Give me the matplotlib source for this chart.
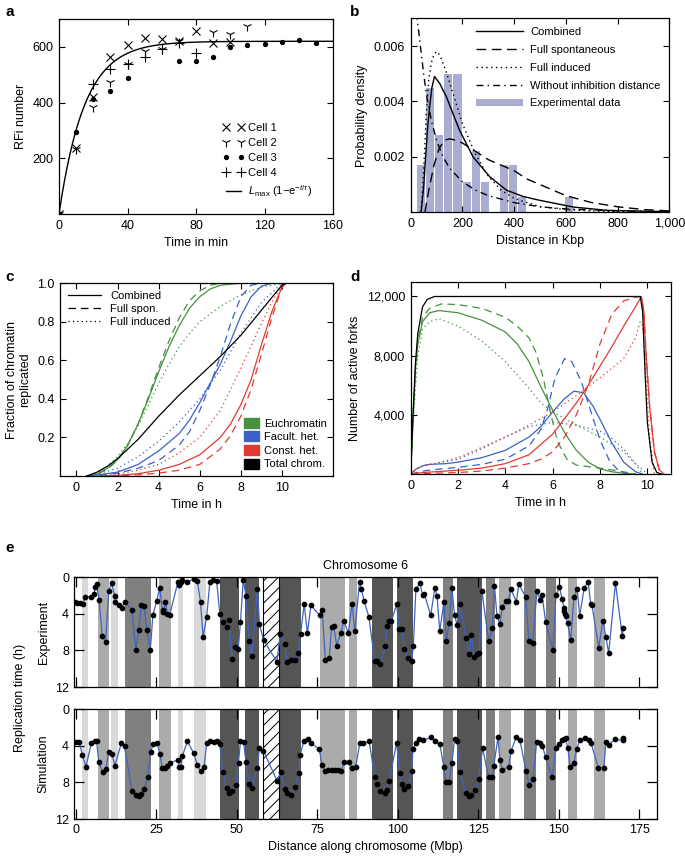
import numpy as np
import matplotlib
matplotlib.use('Agg')
import matplotlib.pyplot as plt
from matplotlib.patches import Patch, Rectangle
from matplotlib.lines import Line2D

plt.rcParams['font.family'] = ['Liberation Sans', 'DejaVu Sans']
plt.rcParams['font.size'] = 9
plt.rcParams['axes.linewidth'] = 0.9
plt.rcParams['mathtext.fontset'] = 'custom'
plt.rcParams['mathtext.rm'] = 'Liberation Sans'
plt.rcParams['mathtext.it'] = 'Liberation Sans:italic'
plt.rcParams['hatch.linewidth'] = 0.7

GREEN = '#46913f'
BLUE = '#3a62c4'
RED = '#e23a30'
LINEBLUE = '#4163bd'

# ---------------- Panel a data ----------------
cell1_t = [0, 10, 20, 30, 40, 50, 60, 70, 80, 90, 100]
cell1_v = [0, 238, 420, 562, 607, 632, 627, 622, 657, 614, 618]
cell2_t = [0, 10, 20, 30, 40, 50, 60, 70, 90, 100, 110]
cell2_v = [0, 235, 385, 475, 537, 586, 594, 622, 654, 645, 674]
cell3_t = [0, 10, 20, 30, 40, 70, 80, 90, 100, 110, 120, 130, 140, 150]
cell3_v = [0, 295, 413, 441, 490, 550, 549, 565, 600, 608, 611, 618, 626, 614]
cell4_t = [0, 20, 30, 40, 50, 60, 70, 80]
cell4_v = [0, 466, 520, 537, 565, 592, 614, 577]
fit_Lmax = 620
fit_tau = 15

# ---------------- Panel b data ----------------
hist_centers = [38, 74, 110, 145, 181, 217, 253, 289, 360, 396, 432, 611]
hist_heights = [0.0017, 0.0045, 0.0028, 0.0050, 0.0050, 0.0011, 0.0022, 0.0011,
                0.0017, 0.0017, 0.00055, 0.00055]
comb_x = [40, 50, 57, 65, 73, 82, 92, 100, 112, 138, 163, 189, 241, 306, 370, 435, 500, 629, 759, 1000]
comb_y = [0, 0.0009, 0.0019, 0.0030, 0.0038, 0.0045, 0.0049, 0.0048, 0.00465, 0.00417, 0.00357,
          0.00296, 0.0020, 0.00128, 0.0008, 0.00057, 0.00043, 0.00019, 0.00007, 0.00002]
spont_x = [55, 70, 90, 110, 130, 150, 175, 200, 250, 300, 350, 400, 450, 500, 600, 700, 800, 900, 1000]
spont_y = [0, 0.0008, 0.0017, 0.0023, 0.0026, 0.00265, 0.0026, 0.0025, 0.0022, 0.0019, 0.0017,
           0.0015, 0.0012, 0.0010, 0.0006, 0.00035, 0.0002, 0.0001, 0.00005]
induced_x = [40, 50, 60, 70, 80, 90, 100, 110, 120, 140, 160, 180, 200, 250, 300, 350, 400, 500,
             600, 700, 800, 1000]
induced_y = [0, 0.0015, 0.0035, 0.0048, 0.0054, 0.0057, 0.0058, 0.0057, 0.0055, 0.0050, 0.0044,
             0.0038, 0.0032, 0.0021, 0.0013, 0.0008, 0.0005, 0.0002, 0.0001, 0.00005, 0.00002, 0]
noinh_x = [22, 30, 40, 50, 60, 80, 100, 125, 150, 200, 250, 300, 400, 500, 600, 800, 1000]
noinh_y = [0.0072, 0.0066, 0.0058, 0.0050, 0.0043, 0.0033, 0.0026, 0.0020, 0.0016, 0.0011,
           0.0008, 0.0006, 0.00035, 0.0002, 0.00012, 0.00005, 0.00002]

# ---------------- Panel c data ----------------
c_eu_comb_t = [0.5, 1, 1.5, 2, 2.5, 3, 3.5, 4, 4.5, 5, 5.5, 6, 6.5, 7, 8, 10]
c_eu_comb = [0, 0.01, 0.04, 0.085, 0.16, 0.27, 0.4, 0.54, 0.67, 0.78, 0.87, 0.93, 0.97, 0.99, 1.0, 1.0]
c_eu_spon_t = [0.5, 1, 1.5, 2, 2.5, 3, 3.5, 4, 4.5, 5, 5.5, 6, 6.5, 7, 8, 10]
c_eu_spon = [0, 0.008, 0.035, 0.08, 0.16, 0.27, 0.41, 0.56, 0.70, 0.82, 0.91, 0.96, 0.99, 1.0, 1.0, 1.0]
c_eu_ind_t = [0.5, 1, 1.5, 2, 2.5, 3, 3.5, 4, 4.5, 5, 5.5, 6, 7, 8, 9, 10]
c_eu_ind = [0, 0.015, 0.05, 0.1, 0.17, 0.26, 0.37, 0.48, 0.58, 0.67, 0.74, 0.80, 0.88, 0.94, 0.98, 1.0]
c_fh_comb_t = [0.5, 1, 2, 3, 4, 5, 5.5, 6, 6.5, 7, 7.5, 8, 8.5, 9, 9.5, 10]
c_fh_comb = [0, 0.005, 0.02, 0.06, 0.13, 0.22, 0.29, 0.38, 0.48, 0.58, 0.70, 0.83, 0.93, 0.985, 1.0, 1.0]
c_fh_spon_t = [0.5, 1, 2, 3, 4, 5, 5.5, 6, 6.5, 7, 7.5, 8, 8.5, 9, 10]
c_fh_spon = [0, 0.003, 0.015, 0.04, 0.08, 0.16, 0.23, 0.34, 0.47, 0.62, 0.79, 0.93, 0.99, 1.0, 1.0]
c_fh_ind_t = [0.5, 1, 2, 3, 4, 5, 6, 7, 8, 9, 10]
c_fh_ind = [0, 0.01, 0.04, 0.1, 0.18, 0.28, 0.40, 0.55, 0.74, 0.90, 1.0]
c_ch_comb_t = [1, 2, 3, 4, 5, 6, 7, 7.5, 8, 8.5, 9, 9.5, 10, 10.2]
c_ch_comb = [0, 0.003, 0.012, 0.03, 0.06, 0.11, 0.20, 0.27, 0.37, 0.50, 0.68, 0.85, 0.98, 1.0]
c_ch_spon_t = [1, 2, 3, 4, 5, 6, 7, 7.5, 8, 8.5, 9, 9.5, 10, 10.2]
c_ch_spon = [0, 0.002, 0.006, 0.015, 0.03, 0.06, 0.14, 0.21, 0.31, 0.45, 0.63, 0.82, 0.98, 1.0]
c_ch_ind_t = [1, 2, 3, 4, 5, 6, 7, 8, 9, 9.5, 10, 10.2]
c_ch_ind = [0, 0.01, 0.03, 0.06, 0.12, 0.20, 0.34, 0.56, 0.79, 0.90, 0.99, 1.0]
c_tot_t = [0.5, 1, 1.5, 2, 3, 4, 5, 6, 7, 8, 9, 10, 10.2]
c_tot = [0, 0.02, 0.05, 0.09, 0.19, 0.31, 0.42, 0.52, 0.62, 0.73, 0.86, 0.99, 1.0]

# ---------------- Panel d data ----------------
d_tot_t = [0, 0.1, 0.2, 0.3, 0.5, 0.7, 1.0, 1.5, 9.7, 9.8, 9.9, 10.0, 10.2, 10.4, 10.6]
d_tot = [0, 4000, 7500, 9500, 11300, 11800, 12000, 12000, 12000, 11000, 7000, 3500, 800, 100, 0]
d_eu_comb_t = [0, 0.1, 0.2, 0.3, 0.5, 0.8, 1.2, 2, 3, 4, 4.5, 5, 5.5, 6, 6.5, 7, 7.5, 8, 8.5, 9, 9.5]
d_eu_comb = [0, 3800, 7000, 8800, 10300, 10900, 11050, 10900, 10400, 9600, 8800, 7600, 5900, 4300,
             2800, 1600, 800, 350, 150, 50, 0]
d_eu_spon_t = [0, 0.1, 0.2, 0.3, 0.5, 0.8, 1.3, 2, 3, 4, 4.5, 5, 5.3, 5.6, 5.9, 6.2, 6.6, 7, 7.5, 8, 9, 9.5]
d_eu_spon = [0, 3800, 7200, 9000, 10600, 11200, 11500, 11450, 11200, 10600, 10000, 9200, 8200, 6500,
             4200, 2200, 1000, 600, 500, 400, 150, 0]
d_eu_ind_t = [0, 0.1, 0.3, 0.5, 0.8, 1.2, 2, 3, 4, 5, 5.5, 6, 7, 8, 9, 9.5, 9.8, 10]
d_eu_ind = [0, 3500, 8000, 9800, 10300, 10500, 10000, 9000, 7600, 5800, 4800, 4200, 3300, 2500,
            1500, 700, 300, 0]
d_fh_comb_t = [0, 0.2, 0.5, 0.8, 1.5, 2, 3, 4, 5, 5.5, 6, 6.5, 6.9, 7.3, 7.7, 8, 8.5, 9, 9.5, 9.8]
d_fh_comb = [0, 300, 550, 650, 700, 800, 1100, 1600, 2500, 3200, 4200, 5100, 5600, 5500, 4600,
             3700, 2100, 800, 150, 0]
d_fh_spon_t = [0, 0.5, 1, 2, 3, 4, 5, 5.5, 5.8, 6.1, 6.5, 6.8, 7.2, 7.6, 8, 8.4, 8.8, 9.2]
d_fh_spon = [0, 200, 300, 450, 650, 1000, 1900, 3000, 4500, 6500, 7800, 7600, 6300, 4300, 2300,
             900, 200, 0]
d_fh_ind_t = [0, 0.3, 0.6, 1, 2, 3, 4, 5, 6, 7, 8, 8.5, 9, 9.5, 9.8]
d_fh_ind = [0, 400, 600, 700, 1000, 1700, 2500, 3200, 3500, 3300, 2900, 2400, 1700, 700, 0]
d_ch_comb_t = [0, 0.5, 1, 2, 3, 4, 5, 6, 7, 7.5, 8, 8.5, 9, 9.5, 9.75, 9.85, 9.95, 10.1, 10.3,
               10.5, 10.7]
d_ch_comb = [0, 100, 150, 250, 400, 700, 1300, 2700, 4800, 6000, 7300, 8600, 10000, 11300, 12000,
             11000, 8000, 4500, 1500, 300, 0]
d_ch_spon_t = [0, 1, 2, 3, 4, 5, 5.5, 6, 6.5, 7, 7.5, 8, 8.5, 9, 9.5, 9.75, 9.85, 9.95, 10.1,
               10.3, 10.5, 10.7]
d_ch_spon = [0, 50, 100, 200, 400, 700, 1000, 1500, 2500, 4000, 6000, 8800, 10800, 11700, 11950,
             12000, 11000, 8000, 4500, 1500, 300, 0]
d_ch_ind_t = [0, 0.3, 0.6, 1, 2, 3, 4, 5, 6, 7, 8, 9, 9.5, 9.7, 9.8, 9.9, 10, 10.1, 10.3]
d_ch_ind = [0, 400, 600, 700, 1100, 1800, 2500, 3300, 4200, 5300, 6500, 7800, 9200, 10300, 10000,
            8000, 5000, 2500, 0]

# ---------------- Panel e data ----------------
band_start = [2.0, 6.7, 10.9, 15.2, 25.8, 31.6, 36.6, 44.9, 52.5, 58.2, 63.1, 75.8, 84.8, 92.0,
              99.8, 113.9, 118.5, 127.3, 131.4, 139.1, 145.9, 152.7, 161.0]
band_end = [3.6, 10.2, 13.1, 23.2, 29.6, 33.3, 40.4, 50.7, 56.9, 63.1, 69.8, 83.5, 87.4, 98.5,
            104.7, 117.2, 126.2, 130.3, 135.1, 142.9, 149.0, 155.6, 164.5]
band_kind = ['light', 'medlight', 'light', 'meddark', 'medlight', 'light', 'light', 'dark', 'dark',
             'hatch', 'dark', 'medlight', 'medlight', 'dark', 'dark', 'meddark', 'dark', 'meddark',
             'medlight', 'meddark', 'meddark', 'medlight', 'medlight']

exp_pos = [-0.4, 0.4, 1.2, 2.1, 2.9, 4.8, 5.7, 5.9, 6.4, 7.2, 8.2, 9.2, 10.2, 11.1, 12.0, 12.2,
           13.3, 14.3, 15.1, 17.4, 18.6, 19.5, 20.3, 21.1, 22.1, 23.1, 23.9, 25.1, 26.0, 26.9,
           27.2, 27.8, 28.4, 29.1, 31.7, 32.1, 32.5, 33.1, 34.6, 36.6, 37.7, 38.7, 39.5, 40.6,
           41.6, 42.6, 43.7, 44.7, 45.7, 46.8, 47.5, 48.5, 49.4, 50.4, 51.1, 52.0, 52.8, 53.8,
           54.6, 56.4, 57.0, 58.3, 62.4, 63.5, 64.9, 65.6, 66.8, 68.0, 69.0, 69.8, 70.9, 71.9,
           73.0, 75.7, 76.5, 77.5, 78.7, 79.4, 80.1, 81.0, 82.3, 83.2, 84.6, 85.8, 86.6, 88.1,
           88.7, 89.5, 91.0, 92.8, 93.6, 94.6, 96.1, 96.7, 97.1, 98.0, 99.6, 100.4, 101.2, 102.0,
           103.2, 104.3, 104.8, 105.6, 106.8, 107.7, 108.2, 110.2, 111.5, 112.2, 113.0, 114.3,
           115.1, 115.9, 116.8, 117.6, 118.4, 119.4, 121.1, 122.2, 122.8, 123.8, 124.6, 125.3,
           126.1, 128.2, 129.4, 130.0, 130.8, 131.7, 132.5, 133.5, 134.3, 135.1, 136.8, 137.6,
           139.7, 140.7, 141.9, 143.2, 144.2, 144.8, 145.9, 148.2, 149.1, 150.2, 151.0, 151.6,
           151.7, 151.9, 152.1, 152.7, 153.7, 154.7, 155.7, 156.5, 157.9, 159.1, 159.9, 160.3,
           162.4, 163.7, 164.6, 165.5, 167.6, 169.7, 170.0]
exp_time = [2.76, 2.83, 2.87, 2.98, 2.18, 2.18, 1.81, 1.09, 0.8, 2.54, 6.47, 7.09, 1.53, 0.65,
            2.03, 2.76, 3.05, 3.34, 2.68, 3.63, 8.0, 5.8, 3.05, 3.16, 5.8, 8.0, 4.1, 2.65, 1.16,
            3.63, 3.85, 2.68, 4.0, 4.18, 0.51, 0.87, 0.51, 0.36, 0.55, 0.22, 0.44, 2.72, 6.54,
            4.36, 0.58, 0.36, 0.44, 4.0, 4.9, 5.5, 4.65, 8.97, 7.63, 7.9, 4.9, 0.29, 2.03, 6.97,
            8.65, 1.27, 5.16, 6.9, 9.23, 6.25, 7.34, 9.23, 9.08, 9.1, 8.28, 6.17, 2.98, 6.1, 3.09,
            4.18, 3.63, 9.08, 8.87, 5.45, 5.38, 7.48, 6.1, 4.8, 6.1, 2.9, 5.92, 0.58, 1.34, 2.6,
            4.36, 9.19, 9.19, 9.49, 7.56, 5.34, 4.8, 4.83, 2.98, 5.63, 5.7, 7.88, 8.87, 9.16,
            7.52, 1.34, 0.65, 2.0, 1.81, 4.18, 1.2, 2.1, 5.92, 2.76, 6.98, 5.02, 1.16, 4.18, 5.2,
            2.9, 6.61, 8.36, 6.28, 8.72, 8.43, 8.32, 1.53, 6.98, 5.52, 0.94, 4.29, 5.09, 3.27,
            2.62, 2.62, 1.34, 2.68, 0.8, 2.18, 6.98, 7.16, 1.53, 2.47, 1.96, 4.9, 8.0, 2.0, 1.09,
            2.36, 3.34, 3.7, 4.0, 4.29, 5.02, 6.83, 2.18, 1.34, 4.21, 1.16, 0.55, 2.9, 3.05, 7.7,
            4.76, 6.54, 8.29, 0.65, 6.43, 5.52]

sim_pos = [0.0, 1.0, 2.0, 3.1, 4.8, 5.8, 6.4, 7.1, 8.3, 9.3, 10.2, 11.2, 12.1, 14.1, 15.1, 17.4,
           18.6, 19.5, 20.3, 21.2, 22.3, 23.2, 24.0, 25.2, 26.1, 26.8, 27.7, 28.4, 29.2, 31.8,
           32.1, 32.5, 33.1, 34.6, 36.6, 37.7, 38.7, 39.8, 40.6, 41.8, 42.9, 43.9, 44.7, 45.6,
           46.8, 47.6, 48.5, 49.6, 50.5, 51.1, 52.1, 52.8, 53.8, 54.6, 56.3, 57.0, 58.2, 62.5,
           63.6, 64.9, 65.7, 66.8, 68.0, 69.2, 69.6, 70.8, 72.0, 73.1, 75.6, 76.4, 77.4, 78.4,
           79.5, 80.5, 81.5, 82.4, 83.3, 84.8, 85.8, 86.9, 88.2, 89.2, 91.1, 92.8, 93.6, 94.6,
           96.1, 96.7, 97.3, 99.6, 100.6, 101.2, 101.9, 103.2, 104.3, 104.7, 105.6, 106.6, 107.9,
           110.3, 111.5, 113.0, 114.3, 114.9, 115.9, 116.8, 117.6, 118.4, 119.3, 121.1, 122.2,
           122.8, 124.0, 125.1, 126.3, 128.2, 129.4, 129.8, 131.1, 131.7, 132.5, 134.4, 135.2,
           136.8, 137.9, 139.8, 140.8, 142.0, 143.1, 144.1, 144.9, 145.9, 148.0, 149.1, 150.1,
           150.9, 151.6, 152.1, 152.8, 153.6, 154.7, 155.5, 156.5, 158.0, 159.4, 160.0, 162.3,
           164.0, 164.6, 165.6, 167.5, 169.8, 170.0]
sim_time = [3.61, 3.61, 5.0, 6.28, 3.72, 3.54, 3.47, 5.8, 6.9, 6.57, 4.64, 4.89, 6.17, 3.72,
            4.09, 8.94, 9.38, 9.45, 9.31, 8.76, 7.45, 4.64, 3.83, 3.72, 4.93, 6.39, 6.42, 6.17,
            5.84, 5.55, 6.28, 6.35, 5.1, 3.54, 4.82, 6.1, 6.75, 6.35, 3.72, 3.54, 3.65, 3.54,
            3.83, 6.82, 8.65, 9.12, 8.94, 8.28, 5.84, 3.54, 3.65, 5.73, 8.21, 8.65, 6.46, 4.2,
            4.53, 7.85, 6.9, 8.72, 9.2, 9.38, 8.54, 7.0, 5.0, 3.54, 3.28, 3.72, 4.38, 6.1, 6.75,
            6.7, 6.65, 6.6, 6.7, 6.75, 5.8, 5.8, 6.39, 6.28, 3.72, 3.72, 3.54, 7.37, 8.18, 8.9,
            9.12, 8.83, 7.81, 3.72, 6.93, 8.18, 8.76, 8.39, 6.72, 4.34, 3.72, 3.28, 3.43, 3.07,
            3.54, 3.8, 6.35, 7.92, 7.92, 5.84, 3.28, 3.54, 6.82, 9.2, 9.45, 9.38, 8.83, 7.63,
            4.27, 7.45, 7.45, 6.2, 3.07, 5.55, 6.64, 6.28, 4.53, 3.07, 3.36, 6.72, 8.28, 7.66,
            3.65, 3.72, 4.01, 5.26, 7.45, 4.2, 3.83, 3.43, 3.28, 3.18, 4.27, 6.35, 5.84, 4.38,
            3.43, 3.18, 3.43, 3.72, 6.42, 6.42, 3.65, 3.9, 3.28, 3.43, 3.18]

band_colors = {'light': '#d9d9d9', 'medlight': '#ababab', 'meddark': '#808080', 'dark': '#555555'}

# ======================================================================
fig = plt.figure(figsize=(6.85, 8.59), dpi=100)


def style_axis(ax):
    ax.tick_params(direction='in', top=True, right=True, length=4, width=0.8, pad=4)


def rect(l, r, t, b):
    W, H = 685.0, 859.0
    return [l / W, 1 - b / H, (r - l) / W, (b - t) / H]

# ---------------- Panel a ----------------
axa = fig.add_axes(rect(59, 333, 19, 214))
ms_kw = dict(color='black', linestyle='none')
axa.plot(cell1_t, cell1_v, marker='x', markersize=6, mew=0.8, label='Cell 1', **ms_kw)
axa.plot(cell2_t, cell2_v, marker='1', markersize=7, mew=0.8, label='Cell 2', **ms_kw)
axa.plot(cell3_t, cell3_v, marker='o', markersize=2.8, label='Cell 3', **ms_kw)
axa.plot(cell4_t, cell4_v, marker='+', markersize=6.5, mew=0.8, label='Cell 4', **ms_kw)
tfit = np.linspace(0, 160, 400)
axa.plot(tfit, fit_Lmax * (1 - np.exp(-tfit / fit_tau)), color='black', lw=1.0,
         label=r'$L_{\mathrm{max}}$ (1$-$e$^{-t/\tau}$)')
axa.set_xlim(0, 160)
axa.set_ylim(0, 700)
axa.set_xticks([0, 40, 80, 120, 160])
axa.set_yticks([200, 400, 600])
axa.set_xlabel('Time in min')
axa.set_ylabel('RFi number')
style_axis(axa)
axa.legend(loc='lower right', bbox_to_anchor=(0.96, 0.025), frameon=False, numpoints=2,
           fontsize=8, handlelength=2.0, labelspacing=0.45, handletextpad=0.3)

# ---------------- Panel b ----------------
axb = fig.add_axes(rect(410.7, 669.3, 18.3, 212.3))
axb.bar(hist_centers, hist_heights, width=31, color='#a9add2', label='Experimental data', zorder=1)
axb.plot(comb_x, comb_y, color='black', lw=1.0, label='Combined', zorder=3)
axb.plot(spont_x, spont_y, color='black', lw=1.0, dashes=(7, 4), label='Full spontaneous', zorder=3)
axb.plot(induced_x, induced_y, color='black', lw=1.0, dashes=(1, 2.5), label='Full induced', zorder=3)
axb.plot(noinh_x, noinh_y, color='black', lw=1.0, dashes=(5, 3, 1, 3),
         label='Without inhibition distance', zorder=3)
axb.set_xlim(0, 1000)
axb.set_ylim(0, 0.007)
axb.set_xticks([0, 200, 400, 600, 800, 1000])
axb.set_xticklabels(['0', '200', '400', '600', '800', '1,000'])
axb.set_yticks([0.002, 0.004, 0.006])
axb.set_yticklabels(['0.002', '0.004', '0.006'])
axb.set_xlabel('Distance in Kbp')
axb.set_ylabel('Probability density')
style_axis(axb)
hb, lb = axb.get_legend_handles_labels()
want = ['Combined', 'Full spontaneous', 'Full induced', 'Without inhibition distance',
        'Experimental data']
hmap = dict(zip(lb, hb))
axb.legend([hmap[k] for k in want], want, loc='upper right',
           bbox_to_anchor=(1.0, 1.0), frameon=False, fontsize=8, handlelength=4.3,
           labelspacing=0.7, handletextpad=0.6, borderaxespad=0.4)

# ---------------- Panel c ----------------
axc = fig.add_axes(rect(60, 333.3, 283.3, 476))
lw = 0.9
for t, v, col, ls in [
        (c_eu_comb_t, c_eu_comb, GREEN, '-'), (c_eu_spon_t, c_eu_spon, GREEN, '--'),
        (c_eu_ind_t, c_eu_ind, GREEN, ':'),
        (c_fh_comb_t, c_fh_comb, BLUE, '-'), (c_fh_spon_t, c_fh_spon, BLUE, '--'),
        (c_fh_ind_t, c_fh_ind, BLUE, ':'),
        (c_ch_comb_t, c_ch_comb, RED, '-'), (c_ch_spon_t, c_ch_spon, RED, '--'),
        (c_ch_ind_t, c_ch_ind, RED, ':'),
        (c_tot_t, c_tot, 'black', '-')]:
    if ls == '--':
        axc.plot(t, v, color=col, lw=lw, dashes=(6, 4))
    elif ls == ':':
        axc.plot(t, v, color=col, lw=lw, dashes=(1, 2.5))
    else:
        axc.plot(t, v, color=col, lw=lw)
axc.set_xlim(-0.8, 12.5)
axc.set_ylim(0, 1.0)
axc.set_xticks([0, 2, 4, 6, 8, 10])
axc.set_yticks([0.2, 0.4, 0.6, 0.8, 1.0])
axc.set_yticklabels(['0.2', '0.4', '0.6', '0.8', '1.0'])
axc.set_xlabel('Time in h')
axc.set_ylabel('Fraction of chromatin\nreplicated')
style_axis(axc)
h1 = [Line2D([], [], color='black', lw=0.9),
      Line2D([], [], color='black', lw=0.9, dashes=(6, 4)),
      Line2D([], [], color='black', lw=0.9, dashes=(1, 2.5))]
leg1 = axc.legend(h1, ['Combined', 'Full spon.', 'Full induced'], loc='upper left',
                  frameon=False, fontsize=8, handlelength=3.0, labelspacing=0.25,
                  borderaxespad=0.3)
axc.add_artist(leg1)
h2 = [Patch(color=GREEN), Patch(color=BLUE), Patch(color=RED), Patch(color='black')]
axc.legend(h2, ['Euchromatin', 'Facult. het.', 'Const. het.', 'Total chrom.'],
           loc='lower right', frameon=False, fontsize=8, handlelength=1.4, handleheight=1.0,
           labelspacing=0.25, handletextpad=0.4, borderaxespad=0.2)

# ---------------- Panel d ----------------
axd = fig.add_axes(rect(410.7, 671, 281.7, 474))
for t, v, col, ls in [
        (d_eu_comb_t, d_eu_comb, GREEN, '-'), (d_eu_spon_t, d_eu_spon, GREEN, '--'),
        (d_eu_ind_t, d_eu_ind, GREEN, ':'),
        (d_fh_comb_t, d_fh_comb, BLUE, '-'), (d_fh_spon_t, d_fh_spon, BLUE, '--'),
        (d_fh_ind_t, d_fh_ind, BLUE, ':'),
        (d_ch_comb_t, d_ch_comb, RED, '-'), (d_ch_spon_t, d_ch_spon, RED, '--'),
        (d_ch_ind_t, d_ch_ind, RED, ':'),
        (d_tot_t, d_tot, 'black', '-')]:
    if ls == '--':
        axd.plot(t, v, color=col, lw=lw, dashes=(6, 4))
    elif ls == ':':
        axd.plot(t, v, color=col, lw=lw, dashes=(1, 2.5))
    else:
        axd.plot(t, v, color=col, lw=lw)
axd.set_xlim(0, 11)
axd.set_ylim(0, 13000)
axd.set_xticks([0, 2, 4, 6, 8, 10])
axd.set_yticks([4000, 8000, 12000])
axd.set_yticklabels(['4,000', '8,000', '12,000'])
axd.set_xlabel('Time in h')
axd.set_ylabel('Number of active forks')
style_axis(axd)

# ---------------- Panel e ----------------
axe1 = fig.add_axes(rect(74, 657, 577, 687))
axe2 = fig.add_axes(rect(74, 657, 709, 819))
for ax, xs, ys in [(axe1, exp_pos, exp_time), (axe2, sim_pos, sim_time)]:
    for s, e, k in zip(band_start, band_end, band_kind):
        if k == 'hatch':
            ax.add_patch(Rectangle((s, 0), e - s, 12, facecolor='white', edgecolor='black',
                                   hatch='///', lw=0.8, zorder=1))
        else:
            ax.axvspan(s, e, color=band_colors[k], lw=0, zorder=0)
    ax.plot(xs, ys, color=LINEBLUE, lw=0.9, zorder=3)
    ax.plot(xs, ys, 'o', color='black', markersize=3.1, zorder=4)
    ax.set_xlim(-0.6, 180.5)
    ax.set_ylim(12, 0)
    ax.set_yticks([0, 4, 8, 12])
    ax.set_xticks([0, 25, 50, 75, 100, 125, 150, 175])
    ax.tick_params(direction='in', top=True, right=True, length=7, width=0.9)
axe1.tick_params(labelbottom=False)
axe1.set_ylabel('Experiment')
axe2.set_ylabel('Simulation')
axe2.set_xlabel('Distance along chromosome (Mbp)')
axe1.set_title('Chromosome 6', fontsize=9, pad=6)
fig.text(20 / 685, 1 - 698 / 859, 'Replication time (h)', rotation=90, va='center', ha='center',
         fontsize=9)

# panel letters
for x, y, s in [(5, 12, 'a'), (350, 12, 'b'), (5, 277, 'c'), (350, 277, 'd'), (5, 548, 'e')]:
    fig.text(x / 685, 1 - y / 859, s, fontsize=11, fontweight='bold', va='center', ha='left')

fig.savefig('out.png', dpi=100)
